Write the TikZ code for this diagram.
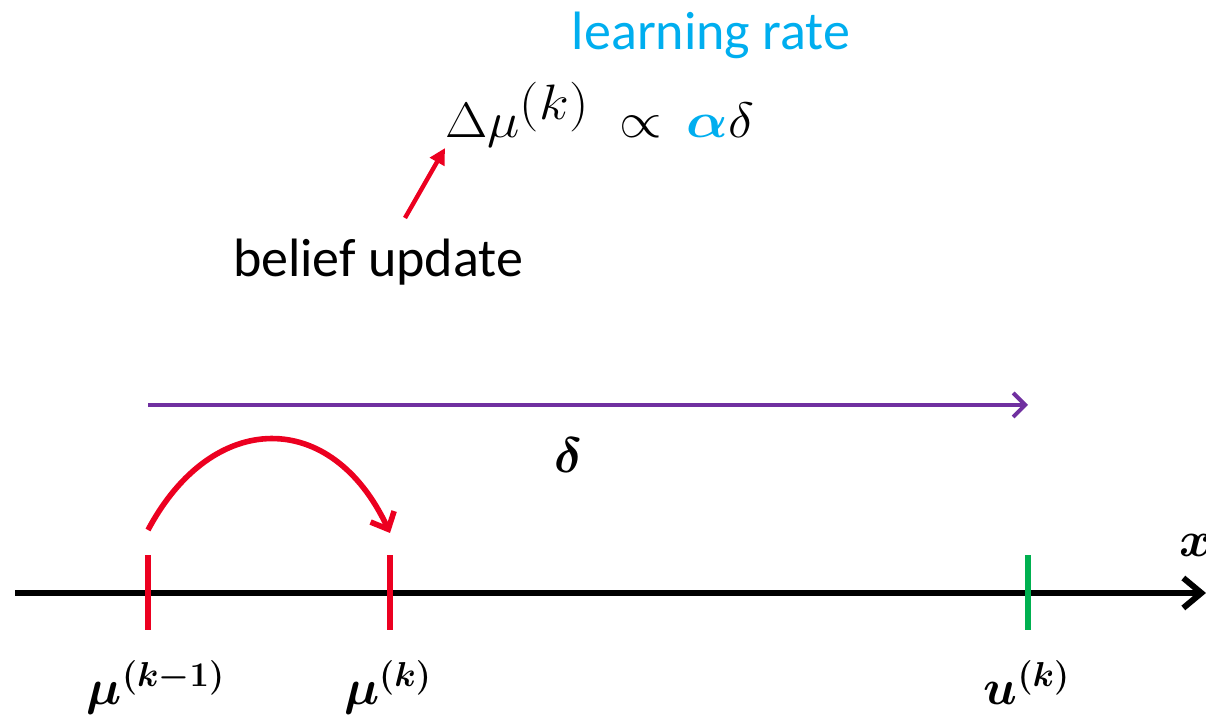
\documentclass[tikz,border=0pt]{standalone}
\usepackage{amsmath}
\usepackage{fontspec}
\setmainfont{Carlito}
\definecolor{ratecyan}{RGB}{0,174,239}
\definecolor{updred}{RGB}{236,0,32}
\definecolor{errpurple}{RGB}{112,48,160}
\definecolor{obsgreen}{RGB}{0,176,80}
\usetikzlibrary{arrows.meta}

\begin{document}
\begin{tikzpicture}[x=0.5pt, y=0.5pt, every node/.style={inner sep=0pt},
  txt/.style={font=\fontsize{27}{32}\selectfont},
  lbl/.style={font=\fontsize{25}{30}\selectfont\boldmath},
  tick/.style={line width=3pt}]
\useasboundingbox (0,0) rectangle (1206,721);
\clip (0,0) rectangle (1206,721);
\node[font=\fontsize{40}{48}\selectfont, anchor=base] (title) at (370,744) {g};
\node[txt, text=ratecyan, anchor=base] (rate) at (711,671) {learning rate};
\node[font=\fontsize{38}{44}\selectfont, xscale=1.1, anchor=base west] (rule) at (445,583)
  {$\Delta\mu^{(k)} \;\propto\, {\color{ratecyan}\boldsymbol{\alpha}}\delta$};
\node[txt, anchor=base] (upd) at (378,444) {belief update};
\coordinate (updtail) at (405,503);
\draw[updred, line width=2.2pt, -{Triangle[length=8pt,width=8pt]}] (updtail) -- (rule.south west);

\coordinate (axstart) at (15,128);
\coordinate (axend) at (1206,128);
\coordinate (prior) at (148,128);
\coordinate (post) at (390,128);
\coordinate (obs) at (1028,128);
\draw[line width=3pt, -{Straight Barb[length=9pt,width=15pt]}] (axstart) -- (axend);
\foreach \p/\c in {prior/updred, post/updred, obs/obsgreen}
  \draw[\c, tick] (\p) ++(0,-37) -- ++(0,75);

\node[lbl, anchor=base] (priorlbl) at (156,16) {$\mu^{(k-1)}$};
\node[lbl, anchor=base] (postlbl) at (388,16) {$\mu^{(k)}$};
\node[lbl, anchor=base] (obslbl) at (1027,16) {$u^{(k)}$};
\node[lbl] (xlbl) at (1196,176) {$x$};

\coordinate (errstart) at (148,316);
\coordinate (errend) at (1028,316);
\draw[errpurple, line width=2pt, -{Straight Barb[length=6pt,width=12pt]}] (errstart) -- (errend);
\node[lbl] (err) at (568,266) {$\delta$};

\coordinate (jumpstart) at (148,191);
\coordinate (jumpend) at (390,188);
\draw[updred, line width=2.8pt, -{Straight Barb[length=7pt,width=13pt]}]
  (jumpstart) to[out=62, in=115, looseness=1.45] (jumpend);
\end{tikzpicture}
\end{document}
